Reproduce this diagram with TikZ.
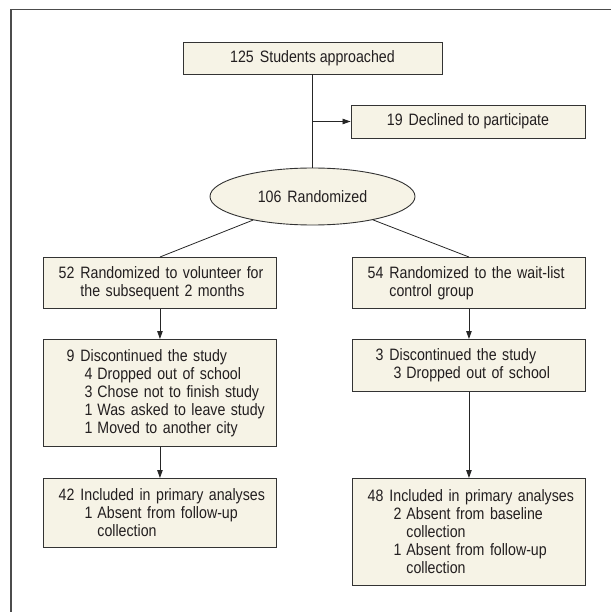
\documentclass[tikz,border=0pt]{standalone}
\usepackage{fontspec}
\setmainfont{Liberation Sans}[FakeStretch=0.86]
\usetikzlibrary{shapes.geometric,arrows.meta}
\definecolor{cream}{RGB}{246,243,230}
\definecolor{inkc}{RGB}{35,31,32}
\newcommand\bfnt{\fontsize{16.5}{18}\selectfont}
\newcommand\mainln[2]{\hspace*{14pt}\makebox[16pt][r]{#1}\hspace{6pt}#2}
\newcommand\contln[1]{\hspace*{36pt}#1}
\newcommand\subln[2]{\hspace*{38pt}\makebox[10pt][r]{#1}\hspace{5pt}#2}
\newcommand\subcont[1]{\hspace*{53pt}#1}
\begin{document}
\begin{tikzpicture}[x=1pt,y=-1pt,
  flowbox/.style={draw=black!80, fill=cream, line width=0.9pt, text=inkc,
    minimum height=#1, text width=231pt, inner xsep=1pt, inner ysep=0pt,
    align=left, font=\bfnt},
  cbox/.style={draw=black!80, fill=cream, line width=0.9pt, text=inkc,
    inner sep=0pt, align=center, font=\bfnt},
  conn/.style={draw=black!85, line width=0.8pt},
  arr/.style={conn, -{Triangle[length=8pt,width=5.5pt]}}]
\useasboundingbox (0,0) rectangle (611,612);
% frame
\draw[black!70, line width=1.8pt] (11,612) -- (11,9.5) -- (611,9.5);
% nodes
\node[cbox, minimum width=259pt, minimum height=32pt] (top) at (312.5,58) {125\hspace{6pt}Students approached};
\node[cbox, minimum width=234pt, minimum height=33pt] (decl) at (468,121.5) {19\hspace{6pt}Declined to participate};
\node[cbox, ellipse, minimum width=205pt, minimum height=57pt] (ell) at (312.5,196.5) {106\hspace{6pt}Randomized};
\node[flowbox=51pt, anchor=north west] (l1) at (43,257) {\mainln{52}{Randomized to volunteer for}\\ \contln{the subsequent 2 months}};
\node[flowbox=51pt, anchor=north west] (r1) at (352,257) {\mainln{54}{Randomized to the wait-list}\\ \contln{control group}};
\node[flowbox=107pt, anchor=north west] (l2) at (43,339) {\mainln{9}{Discontinued the study}\\ \subln{4}{Dropped out of school}\\ \subln{3}{Chose not to finish study}\\ \subln{1}{Was asked to leave study}\\ \subln{1}{Moved to another city}};
\node[flowbox=52pt, anchor=north west] (r2) at (352,339) {\mainln{3}{Discontinued the study}\\ \subln{3}{Dropped out of school}};
\node[flowbox=69pt, anchor=north west] (l3) at (43,478) {\mainln{42}{Included in primary analyses}\\ \subln{1}{Absent from follow-up}\\ \subcont{collection}};
\node[flowbox=107pt, anchor=north west] (r3) at (352,478) {\mainln{48}{Included in primary analyses}\\ \subln{2}{Absent from baseline}\\ \subcont{collection}\\ \subln{1}{Absent from follow-up}\\ \subcont{collection}};
% connectors
\draw[conn] (top.south) -- (ell.north);
\coordinate (junc) at (top.south |- decl.west);
\draw[arr] (junc) -- (decl.west);
\draw[conn] (ell) -- (l1.north);
\draw[conn] (ell) -- (r1.north);
\draw[arr] (l1.south) -- (l2.north);
\draw[arr] (r1.south) -- (r2.north);
\draw[arr] (l2.south) -- (l3.north);
\draw[arr] (r2.south) -- (r3.north);
\end{tikzpicture}
\end{document}
